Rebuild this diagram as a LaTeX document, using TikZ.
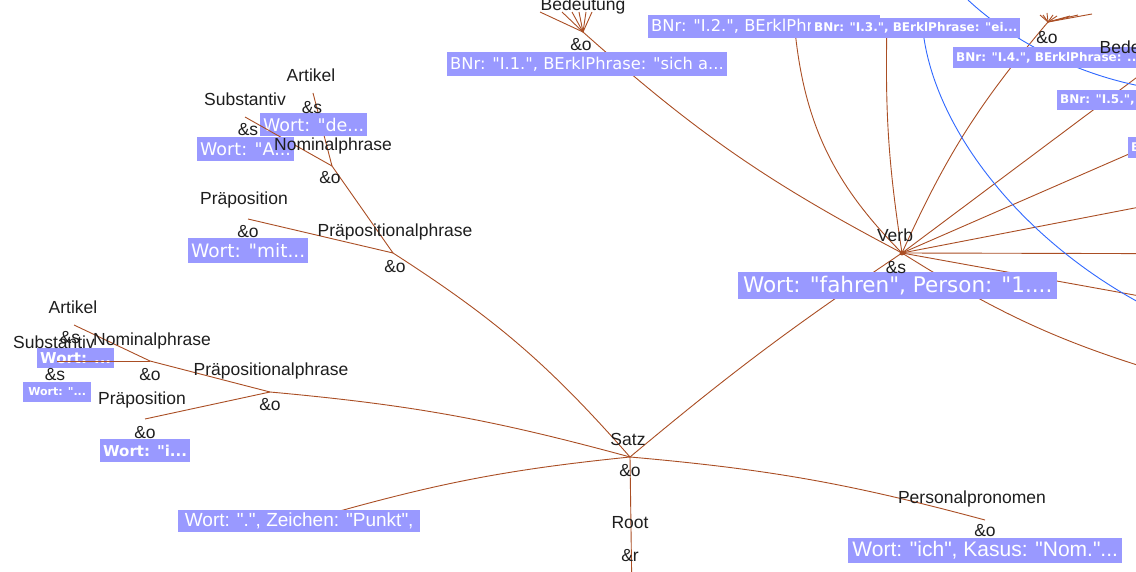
\documentclass[tikz,border=0pt]{standalone}
\usepackage{fontspec}
\setmainfont{Liberation Sans}[Ligatures=TeXOff]
\newfontfamily\kastenschrift{DejaVu Sans}[Ligatures=TeXOff]
\definecolor{kantenfarbe}{RGB}{170,78,36}
\definecolor{kastenfarbe}{RGB}{153,153,255}
\definecolor{querfarbe}{RGB}{48,104,255}
\definecolor{schriftfarbe}{RGB}{30,30,30}

\begin{document}
\begin{tikzpicture}[x=1pt,y=-1pt,
	kante/.style={draw=kantenfarbe,line width=0.9pt},
	quer/.style={draw=querfarbe,line width=0.9pt},
	kat/.style={text=schriftfarbe,inner sep=0pt,font=\fontsize{17.5}{18}\selectfont},
	wert/.style={fill=kastenfarbe,text=white,anchor=west,inner xsep=3pt,inner ysep=0pt,font=\kastenschrift\fontsize{#1}{#1}\selectfont},
	wertfett/.style={wert=#1,font=\kastenschrift\bfseries\fontsize{#1}{#1}\selectfont},
	wertschmal/.style={wert=#1,font=\fontsize{#1}{#1}\selectfont}]

	\useasboundingbox (0,0) rectangle (1136,572);
	\fill[white] (0,0) rectangle (1136,572);
	\clip (0,0) rectangle (1136,572);

	\coordinate (satz) at (630,457);
	\coordinate (wurzel) at (632,600);
	\coordinate (verb) at (902,253);
	\coordinate (punkt) at (322,516);
	\coordinate (perspron) at (985,520);
	\coordinate (ppO) at (393,253);
	\coordinate (npO) at (332,166);
	\coordinate (artO) at (313,93);
	\coordinate (subO) at (245,117);
	\coordinate (prO) at (248,219);
	\coordinate (ppU) at (270,392);
	\coordinate (npU) at (150,361);
	\coordinate (artU) at (74,325);
	\coordinate (subU) at (57,361);
	\coordinate (prU) at (145,419);
	\coordinate (bed1) at (583,32);
	\coordinate (bed2) at (794,20);
	\coordinate (bed3) at (887,22);
	\coordinate (bed4) at (1048,22);
	\coordinate (bed5) at (1152,66);
	\coordinate (bed6) at (1223,113);
	\coordinate (rechts1) at (1300,176);
	\coordinate (rechts2) at (1300,254);
	\coordinate (rechts3) at (1300,325);
	\coordinate (rechts4) at (1180,378);
	\coordinate (q1a) at (922,20);
	\coordinate (q1b) at (1140,303);
	\coordinate (q2a) at (968,0);
	\coordinate (q2b) at (1140,86);

	\draw[kante] (npO) -- (artO);
	\node[wert=17.5,minimum width=106,minimum height=23] (wdeO) at (260,124.5) {Wort: "de...};
	\node[wertfett=15,minimum width=77,minimum height=20] (wartU) at (37,358) {Wort: ...};

	\draw[kante] (wurzel) -- (satz);
	\draw[kante] (satz) to[bend left=3] (verb);
	\draw[kante] (satz) to[bend right=8] (ppO);
	\draw[kante] (satz) to[bend right=5] (ppU);
	\draw[kante] (satz) to[bend right=5] (punkt);
	\draw[kante] (satz) to[bend left=5] (perspron);
	\draw[kante] (ppO) -- (npO);
	\draw[kante] (ppO) -- (prO);
	\draw[kante] (npO) -- (subO);
	\draw[kante] (ppU) -- (npU);
	\draw[kante] (ppU) -- (prU);
	\draw[kante] (npU) -- (artU);
	\draw[kante] (npU) -- (subU);

	\draw[kante] (bed1) to[bend right=7] (verb);
	\draw[kante] (bed2) to[bend right=20] (verb);
	\draw[kante] (bed3) to[bend right=5] (verb);
	\draw[kante] (bed4) to[bend right=8] (verb);
	\draw[kante] (bed5) -- (verb);
	\draw[kante] (bed6) -- (verb);
	\draw[kante] (verb) -- (rechts1);
	\draw[kante] (verb) -- (rechts2);
	\draw[kante] (verb) -- (rechts3);
	\draw[kante] (verb) to[bend right=8] (rechts4);
	\fill[kantenfarbe] (verb) circle (2.5);

	\foreach \fx/\fy [count=\i] in {540/12, 562/12, 572/12, 579/12, 586/12, 592/12} {
		\coordinate (fb1-\i) at (\fx,\fy);
		\draw[kante] (bed1) -- (fb1-\i);
	}
	\foreach \fx/\fy [count=\i] in {1040/15, 1043/15, 1047/13, 1053/15, 1057/16, 1070/16, 1078/15, 1092/14} {
		\coordinate (fb4-\i) at (\fx,\fy);
		\draw[kante] (bed4) -- (fb4-\i);
	}

	\draw[quer] (q1a) .. controls (928,120) and (1015,235) .. (q1b);
	\draw[quer] (q2a) .. controls (1000,30) and (1060,70) .. (q2b);

	\node[wert=17.5,minimum width=96,minimum height=24] (wsubO) at (197,149) {Wort: "A...};
	\node[wert=18.5,minimum width=120,minimum height=25] (wprO) at (188,250.5) {Wort: "mit...};
	\node[wertfett=11,minimum width=68,minimum height=20] (wsubU) at (23,392) {Wort: "...};
	\node[wertfett=15,minimum width=89,minimum height=23] (wprU) at (100,450.5) {Wort: "i...};
	\node[wertschmal=19,minimum width=242,minimum height=22] (wpunkt) at (178,521) {Wort: ".", Zeichen: "Punkt",};
	\node[wertschmal=21,minimum width=274,minimum height=25] (wperspron) at (848,550.5) {Wort: "ich", Kasus: "Nom."...};
	\node[wert=21.5,minimum width=319,minimum height=27] (wverb) at (738,285.5) {Wort: "fahren", Person: "1....};
	\node[wert=16.3,minimum width=277,minimum height=24] (wbed1) at (447,64) {BNr: "I.1.", BErklPhrase: "sich a...};
	\node[wert=16.3,minimum height=23] (wbed2) at (648,26.5) {BNr: "I.2.", BErklPhrase: "...};
	\node[wertfett=12,minimum width=206,minimum height=20] (wbed3) at (811,28) {BNr: "I.3.", BErklPhrase: "ei...};
	\node[wertfett=12,minimum width=190,minimum height=21] (wbed4) at (953,57.5) {BNr: "I.4.", BErklPhrase: ...};
	\node[wertfett=12,minimum width=190,minimum height=20] (wbed5) at (1057,100) {BNr: "I.5.", BErklPhrase: ...};
	\node[wertfett=12,minimum height=21] (wbed6) at (1128,147.5) {BNr: ...};

	\node[kat] (lartO) at (311,75) {Artikel};
	\node[kat] (aartO) at (312,108) {\&s};
	\node[kat] (lsubO) at (245,99) {Substantiv};
	\node[kat] (asubO) at (248,130) {\&s};
	\node[kat] (lnpO) at (333,146) {Nominalphrase};
	\node[kat] (anpO) at (330,178) {\&o};
	\node[kat] (lprO) at (244,200) {Präposition};
	\node[kat] (aprO) at (248,232) {\&o};
	\node[kat] (lppO) at (395,232) {Präpositionalphrase};
	\node[kat] (appO) at (395,267) {\&o};

	\node[kat] (lartU) at (73,307) {Artikel};
	\node[kat] (aartU) at (70,338) {\&s};
	\node[kat] (lsubU) at (54,342) {Substantiv};
	\node[kat] (asubU) at (55,375) {\&s};
	\node[kat] (lnpU) at (152,341) {Nominalphrase};
	\node[kat] (anpU) at (150,375) {\&o};
	\node[kat] (lprU) at (142,400) {Präposition};
	\node[kat] (aprU) at (145,433) {\&o};
	\node[kat] (lppU) at (271,371) {Präpositionalphrase};
	\node[kat] (appU) at (270,405) {\&o};

	\node[kat] (lsatz) at (628,439) {Satz};
	\node[kat] (asatz) at (630,471) {\&o};
	\node[kat] (lwurzel) at (630,523) {Root};
	\node[kat] (awurzel) at (630,556) {\&r};
	\node[kat] (lperspron) at (972,499) {Personalpronomen};
	\node[kat] (aperspron) at (985,531) {\&o};
	\node[kat] (lverb) at (895,235) {Verb};
	\node[kat] (averb) at (896,268) {\&s};
	\node[kat] (lbed1) at (583,6) {Bedeutung};
	\node[kat] (abed1) at (581,45) {\&o};
	\node[kat] (abed4) at (1047,38) {\&o};
	\node[kat] (lbed5) at (1142,49) {Bedeutung};
\end{tikzpicture}
\end{document}
